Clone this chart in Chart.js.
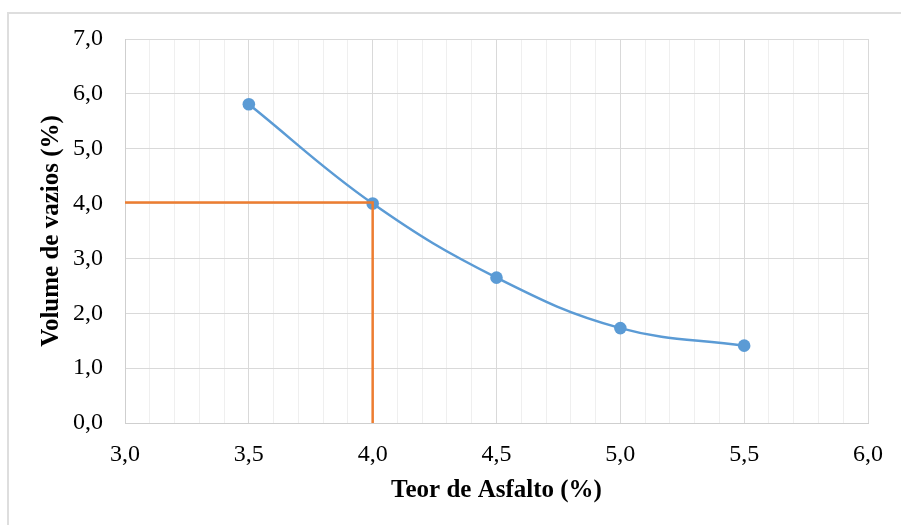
<!DOCTYPE html>
<html>
<head>
<meta charset="utf-8">
<script src="https://cdn.jsdelivr.net/npm/chart.js@4/dist/chart.umd.min.js"></script>
<style>
  html, body { margin: 0; padding: 0; background: #ffffff; }
  #wrap { position: relative; width: 901px; height: 525px; overflow: hidden; background: #ffffff; }
  #frame { position: absolute; left: 7px; top: 12px; width: 1000px; height: 1000px;
           border-top: 2px solid #dedede; border-left: 2px solid #dedede; box-sizing: border-box; }
  canvas { position: absolute; left: 0; top: 0; }
</style>
</head>
<body>
<div id="wrap">
  <div id="frame"></div>
  <canvas id="c" width="901" height="525"></canvas>
</div>
<script>
// Data
const asphaltContent = [3.5, 4.0, 4.5, 5.0, 5.5];          // Teor de Asfalto (%)
const voidVolume     = [5.81, 4.00, 2.65, 1.73, 1.41];      // Volume de vazios (%)
const guideX = [3.0, 4.0, 4.0];                              // orange guide line
const guideY = [4.02, 4.02, 0.0];
const xTitle = 'Teor de Asfalto (%)';
const yTitle = 'Volume de vazios (%)';
const xRange = [3.0, 6.0];
const yRange = [0.0, 7.0];

const fmt = v => v.toFixed(1).replace('.', ',');
const isMajorX = v => Math.abs(v * 2 - Math.round(v * 2)) < 1e-6;

const serif = "'Liberation Serif', 'Times New Roman', serif";

new Chart(document.getElementById('c'), {
  type: 'scatter',
  data: {
    datasets: [
      {
        label: 'guide',
        data: guideX.map((x, i) => ({ x: x, y: guideY[i] })),
        showLine: true,
        borderColor: '#ed7d31',
        borderWidth: 2.5,
        pointRadius: 0,
        tension: 0,
        clip: false
      },
      {
        label: 'Vv',
        data: asphaltContent.map((x, i) => ({ x: x, y: voidVolume[i] })),
        showLine: true,
        borderColor: '#5b9bd5',
        backgroundColor: '#5b9bd5',
        borderWidth: 2.5,
        pointRadius: 6.3,
        pointBorderWidth: 0,
        pointBackgroundColor: '#5b9bd5',
        tension: 0.4,
        cubicInterpolationMode: 'default'
      }
    ]
  },
  options: {
    responsive: false,
    animation: false,
    devicePixelRatio: 1,
    layout: { padding: { left: 0, right: 33, top: 39, bottom: 0 } },
    plugins: { legend: { display: false }, tooltip: { enabled: false } },
    scales: {
      x: {
        type: 'linear',
        min: xRange[0], max: xRange[1],
        afterFit: s => { s.height = 102; },
        ticks: {
          stepSize: 0.1,
          autoSkip: false,
          maxRotation: 0,
          padding: 17,
          color: '#000000',
          font: { family: serif, size: 24 },
          callback: v => isMajorX(v) ? fmt(v) : ''
        },
        grid: {
          drawTicks: false,
          color: ctx => (ctx.tick && isMajorX(ctx.tick.value)) ? '#d9d9d9' : '#efefef',
          lineWidth: 1
        },
        border: { color: '#cfcfcf', width: 1 },
        title: {
          display: true, text: xTitle, color: '#000000',
          font: { family: serif, size: 25, weight: 'bold' },
          padding: { top: 0, bottom: 19 }
        }
      },
      y: {
        type: 'linear',
        min: yRange[0], max: yRange[1],
        afterFit: s => { s.width = 125; },
        ticks: {
          stepSize: 1,
          padding: 22,
          color: '#000000',
          font: { family: serif, size: 24 },
          callback: v => fmt(v)
        },
        grid: { drawTicks: false, color: '#d9d9d9', lineWidth: 1 },
        border: { color: '#cfcfcf', width: 1 },
        title: {
          display: true, text: yTitle, color: '#000000',
          font: { family: serif, size: 25, weight: 'bold' },
          padding: { top: 37, bottom: 0 }
        }
      }
    }
  }
});
</script>
</body>
</html>
